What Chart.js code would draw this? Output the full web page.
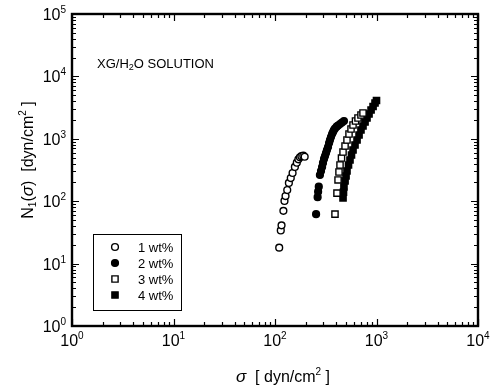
<!DOCTYPE html>
<html>
<head>
<meta charset="utf-8">
<script src="https://cdn.jsdelivr.net/npm/chart.js@4.4.0/dist/chart.umd.min.js"></script>
<style>
  html, body { margin: 0; padding: 0; background: #fff; }
</style>
</head>
<body>
<canvas id="chart" width="498" height="392"></canvas>
<script>
// decades shown on both axes (exponents)
const xDecades = [0, 1, 2, 3, 4];
const yDecades = [0, 1, 2, 3, 4, 5];

// 1 wt%
const sigma1 = [110, 114, 116, 121, 124, 127, 132, 137, 143, 149, 157, 164, 170, 176, 182, 190, 196];
const n1_1   = [18, 34, 41, 70, 101, 121, 151, 196, 235, 283, 354, 414, 469, 505, 527, 536, 516];

// 2 wt%
const sigma2 = [254, 263, 266, 270, 277, 284, 291, 297, 304, 311, 318, 325, 333, 341, 348, 356, 365, 373, 381, 390, 405, 418, 437, 457, 478];
const n1_2   = [62, 116, 142, 171, 263, 305, 353, 410, 475, 530, 592, 662, 739, 857, 957, 1069, 1194, 1286, 1384, 1463, 1563, 1634, 1727, 1825, 1928];

// 3 wt%
const sigma3 = [390, 408, 418, 427, 437, 452, 468, 490, 512, 536, 561, 587, 621, 657, 703, 736];
const n1_3   = [62, 135, 219, 294, 380, 492, 614, 767, 957, 1194, 1435, 1664, 1928, 2153, 2405, 2589];

// 4 wt%
const sigma4 = [468, 473, 478, 490, 501, 512, 530, 548, 567, 587, 614, 643, 673, 703, 736, 771, 806, 844, 884, 925, 967, 1000];
const n1_4   = [113, 140, 169, 211, 253, 305, 380, 458, 550, 662, 796, 957, 1151, 1384, 1603, 1858, 2153, 2496, 2894, 3296, 3748, 4110];

const seriesLabels = ['1 wt%', '2 wt%', '3 wt%', '4 wt%'];

const toPoints = (xs, ys) => xs.map((x, i) => ({ x: x, y: ys[i] }));

const FONT = '"Liberation Sans", Arial, Helvetica, sans-serif';

// draw a line of text made of runs (for sub/superscripts, italic sigma)
function runsWidth(ctx, runs) {
    let w = 0;
    runs.forEach(r => {
        ctx.font = (r.italic ? 'italic ' : '') + r.size + 'px ' + FONT;
        w += ctx.measureText(r.t).width;
    });
    return w;
}
function drawRuns(ctx, runs, x, y, align) {
    const w = runsWidth(ctx, runs);
    let cx = align === 'center' ? x - w / 2 : align === 'right' ? x - w : x;
    ctx.textAlign = 'left';
    ctx.textBaseline = 'alphabetic';
    runs.forEach(r => {
        ctx.font = (r.italic ? 'italic ' : '') + r.size + 'px ' + FONT;
        ctx.fillText(r.t, cx, y + (r.dy || 0));
        cx += ctx.measureText(r.t).width;
    });
}
const powRuns = e => [{ t: '10', size: 16 }, { t: String(e), size: 10, dy: -7 }];

const frame = {
    id: 'frame',
    afterDraw(chart) {
        const ctx = chart.ctx;
        const a = chart.chartArea;
        const xs = chart.scales.x, ys = chart.scales.y;
        ctx.save();
        ctx.strokeStyle = '#000';
        ctx.fillStyle = '#000';

        // frame
        ctx.lineWidth = 2.4;
        ctx.strokeRect(a.left, a.top, a.right - a.left, a.bottom - a.top);

        // inward ticks, all four sides
        ctx.lineWidth = 1.2;
        ctx.beginPath();
        xDecades.forEach(e => {
            for (let m = 1; m <= 9; m++) {
                if (e === 4 && m > 1) break;
                const px = Math.round(xs.getPixelForValue(m * Math.pow(10, e))) + 0.5;
                const len = m === 1 ? 7 : 4;
                ctx.moveTo(px, a.bottom); ctx.lineTo(px, a.bottom - len);
                ctx.moveTo(px, a.top); ctx.lineTo(px, a.top + len);
            }
        });
        yDecades.forEach(e => {
            for (let m = 1; m <= 9; m++) {
                if (e === 5 && m > 1) break;
                const py = Math.round(ys.getPixelForValue(m * Math.pow(10, e))) + 0.5;
                const len = m === 1 ? 7 : 4;
                ctx.moveTo(a.left, py); ctx.lineTo(a.left + len, py);
                ctx.moveTo(a.right, py); ctx.lineTo(a.right - len, py);
            }
        });
        ctx.stroke();

        // tick labels
        xDecades.forEach(e => {
            const px = xs.getPixelForValue(Math.pow(10, e));
            drawRuns(ctx, powRuns(e), px, a.bottom + 20, 'center');
        });
        yDecades.forEach(e => {
            const py = ys.getPixelForValue(Math.pow(10, e));
            drawRuns(ctx, powRuns(e), a.left - 6, py + 6, 'right');
        });

        // axis titles
        drawRuns(ctx, [
            { t: '\u03c3', size: 17, italic: true },
            { t: '  [ dyn/cm', size: 16 },
            { t: '2', size: 10, dy: -7 },
            { t: ' ]', size: 16 }
        ], 283, 382, 'center');

        ctx.save();
        ctx.translate(33, 160);
        ctx.rotate(-Math.PI / 2);
        drawRuns(ctx, [
            { t: 'N', size: 16 },
            { t: '1', size: 10, dy: 3 },
            { t: '(', size: 16 },
            { t: '\u03c3', size: 17, italic: true },
            { t: ')  [dyn/cm', size: 16 },
            { t: '2', size: 10, dy: -7 },
            { t: ' ]', size: 16 }
        ], 0, 0, 'center');
        ctx.restore();

        // annotation
        drawRuns(ctx, [
            { t: 'XG/H', size: 13 },
            { t: '2', size: 9, dy: 2 },
            { t: 'O SOLUTION', size: 13 }
        ], 97, 68, 'left');

        // legend
        ctx.lineWidth = 1;
        ctx.strokeRect(93.5, 234.5, 88, 76);
        chart.data.datasets.forEach((ds, i) => {
            const y = 247 + i * 16;
            const x = 115;
            ctx.beginPath();
            ctx.lineWidth = ds.borderWidth;
            ctx.fillStyle = ds.backgroundColor;
            if (ds.pointStyle === 'rect') {
                const s = ds.pointRadius * Math.SQRT1_2;
                ctx.rect(x - s, y - s, 2 * s, 2 * s);
            } else {
                ctx.arc(x, y, ds.pointRadius, 0, Math.PI * 2);
            }
            ctx.fill();
            ctx.stroke();
            ctx.fillStyle = '#000';
            drawRuns(ctx, [{ t: seriesLabels[i], size: 13 }], 138, y + 5, 'left');
        });
        ctx.restore();
    }
};

const mkSet = (label, xs, ys, style, filled) => ({
    label: label,
    data: toPoints(xs, ys),
    pointStyle: style,
    pointRadius: style === 'rect' ? 4.4 : 3.4,
    borderWidth: 1.4,
    borderColor: '#000',
    backgroundColor: filled ? '#000' : '#fff',
    showLine: false
});

new Chart(document.getElementById('chart'), {
    type: 'scatter',
    data: {
        datasets: [
            mkSet(seriesLabels[0], sigma1, n1_1, 'circle', false),
            mkSet(seriesLabels[1], sigma2, n1_2, 'circle', true),
            mkSet(seriesLabels[2], sigma3, n1_3, 'rect', false),
            mkSet(seriesLabels[3], sigma4, n1_4, 'rect', true)
        ]
    },
    options: {
        responsive: false,
        devicePixelRatio: 1,
        animation: false,
        layout: { padding: { left: 72, right: 20, top: 14, bottom: 66 } },
        plugins: { legend: { display: false }, tooltip: { enabled: false } },
        scales: {
            x: { type: 'logarithmic', min: 1, max: 10000, display: false },
            y: { type: 'logarithmic', min: 1, max: 100000, display: false }
        }
    },
    plugins: [frame]
});
</script>
</body>
</html>
